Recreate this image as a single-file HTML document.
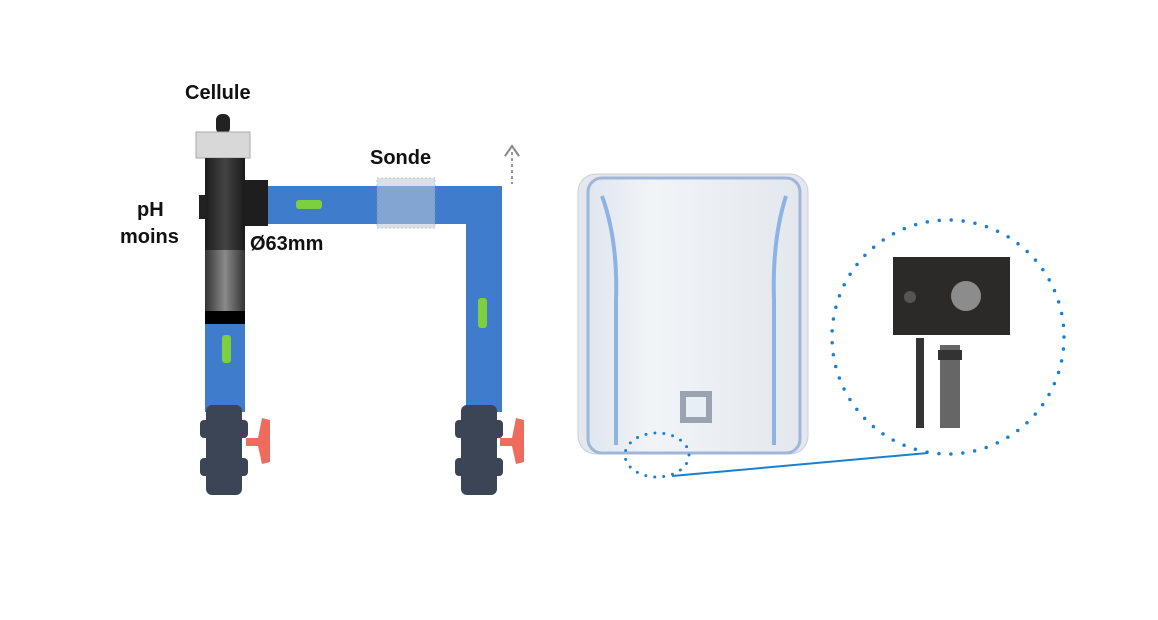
<!DOCTYPE html>
<html><head><style>
html,body{margin:0;padding:0;background:#fff;}
svg{display:block;}
text{font-family:"Liberation Sans",Arial,sans-serif;font-weight:bold;fill:#111;font-size:20px;}
</style></head><body>
<svg width="1158" height="620" viewBox="0 0 1158 620" xmlns="http://www.w3.org/2000/svg">
<defs>
<linearGradient id="cell" x1="0" x2="1"><stop offset="0" stop-color="#1c1c1c"/><stop offset="0.5" stop-color="#444"/><stop offset="1" stop-color="#1a1a1a"/></linearGradient>
<linearGradient id="cellLow" x1="0" x2="1"><stop offset="0" stop-color="#333"/><stop offset="0.5" stop-color="#8a8a8a"/><stop offset="1" stop-color="#333"/></linearGradient>
<linearGradient id="dev" x1="0" x2="1"><stop offset="0" stop-color="#dfe6ee"/><stop offset="0.3" stop-color="#f1f4f7"/><stop offset="1" stop-color="#e3e8ee"/></linearGradient>
</defs>
<!-- pipes -->
<rect x="205" y="320" width="40" height="92" fill="#3f7ccc"/>
<rect x="266" y="186" width="236" height="38" fill="#3f7ccc"/>
<rect x="466" y="186" width="36" height="226" fill="#3f7ccc"/>
<!-- sonde -->
<rect x="377" y="178" width="58" height="50" fill="#bcc8d6" opacity="0.55" stroke="#999" stroke-dasharray="2,2"/>
<!-- green arrows -->
<rect x="296" y="200" width="26" height="9" rx="3" fill="#7ccf3e"/>
<rect x="222" y="335" width="9" height="28" rx="3" fill="#7ccf3e"/>
<rect x="478" y="298" width="9" height="30" rx="3" fill="#7ccf3e"/>
<!-- dotted up arrow -->
<line x1="512" y1="152" x2="512" y2="184" stroke="#999" stroke-width="2" stroke-dasharray="3,3"/>
<path d="M505 156 L512 146 L519 156" fill="none" stroke="#888" stroke-width="2"/>
<!-- cell -->
<rect x="216" y="114" width="14" height="20" rx="6" fill="#222"/>
<rect x="196" y="132" width="54" height="26" fill="#d8d8d8" stroke="#aaa"/>
<rect x="205" y="158" width="40" height="92" fill="url(#cell)"/>
<rect x="199" y="195" width="7" height="24" fill="#222"/>
<rect x="245" y="180" width="23" height="46" fill="#1e1e1e"/>
<rect x="205" y="250" width="40" height="62" fill="url(#cellLow)"/>
<rect x="205" y="311" width="40" height="13" fill="#000"/>
<!-- valves -->
<g fill="#3b4556">
<rect x="206" y="405" width="36" height="90" rx="6"/>
<rect x="200" y="420" width="48" height="18" rx="4"/>
<rect x="200" y="458" width="48" height="18" rx="4"/>
<rect x="461" y="405" width="36" height="90" rx="6"/>
<rect x="455" y="420" width="48" height="18" rx="4"/>
<rect x="455" y="458" width="48" height="18" rx="4"/>
</g>
<path d="M246 438 L258 438 L262 418 L270 420 L270 462 L262 464 L258 446 L246 446Z" fill="#ef6b5e"/>
<path d="M500 438 L512 438 L516 418 L524 420 L524 462 L516 464 L512 446 L500 446Z" fill="#ef6b5e"/>
<!-- labels -->
<text x="185" y="99">Cellule</text>
<text x="370" y="164">Sonde</text>
<text x="137" y="216">pH</text>
<text x="120" y="243">moins</text>
<text x="250" y="250">Ø63mm</text>
<!-- device -->
<rect x="578" y="174" width="230" height="280" rx="18" fill="#e4e8ee" stroke="#c9d0da"/>
<rect x="588" y="178" width="212" height="275" rx="14" fill="url(#dev)" stroke="#9fb6d9" stroke-width="3"/>
<path d="M602 196 Q618 240 616 300 L616 445" fill="none" stroke="#8fb2e4" stroke-width="4"/>
<path d="M786 196 Q772 240 774 300 L774 445" fill="none" stroke="#8fb2e4" stroke-width="4"/>
<rect x="680" y="391" width="32" height="32" fill="#9aa4b0"/>
<rect x="686" y="397" width="20" height="20" fill="#e8eef6"/>
<!-- zoom callouts -->
<ellipse cx="657" cy="455" rx="32" ry="22" fill="none" stroke="#1b7fd1" stroke-width="3" stroke-dasharray="0,9" stroke-linecap="round"/>
<ellipse cx="948" cy="337" rx="116" ry="117" fill="none" stroke="#1b7fd1" stroke-width="3.5" stroke-dasharray="0,12" stroke-linecap="round"/>
<line x1="672" y1="476" x2="928" y2="453" stroke="#1b7fd1" stroke-width="2"/>
<rect x="893" y="257" width="117" height="78" fill="#2b2a28"/>
<circle cx="910" cy="297" r="6" fill="#555"/>
<circle cx="966" cy="296" r="15" fill="#8c8c8c"/>
<rect x="916" y="338" width="8" height="90" fill="#333"/>
<rect x="940" y="345" width="20" height="83" fill="#666"/>
<rect x="938" y="350" width="24" height="10" fill="#333"/>
</svg>
</body></html>
